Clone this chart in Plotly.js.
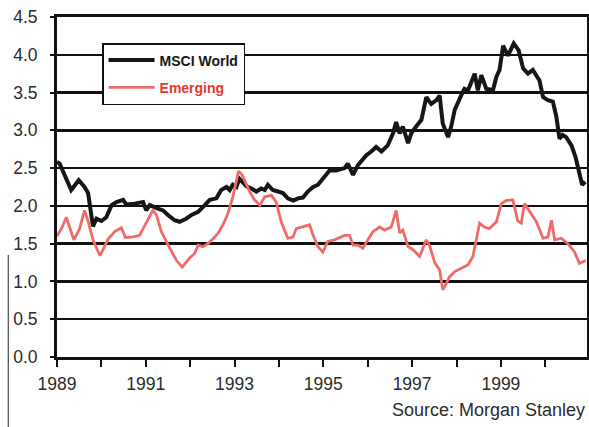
<!DOCTYPE html>
<html>
<head>
<meta charset="utf-8">
<script src="https://cdn.plot.ly/plotly-3.0.1.min.js"></script>
<style>
  html, body { margin: 0; padding: 0; background: #fff; }
  #chart { width: 589px; height: 427px; }
</style>
</head>
<body>
<div id="chart"></div>
<script>
// MSCI World (black)
const worldYears = [1989.00,1989.06,1989.32,1989.49,1989.62,1989.70,1989.81,1989.89,1990.00,1990.11,1990.23,1990.34,1990.49,1990.56,1990.75,1990.94,1991.01,1991.09,1991.24,1991.39,1991.50,1991.65,1991.76,1991.91,1992.03,1992.18,1992.33,1992.44,1992.59,1992.70,1992.82,1992.89,1992.96,1993.04,1993.11,1993.19,1993.27,1993.38,1993.49,1993.60,1993.68,1993.75,1993.86,1993.98,1994.09,1994.20,1994.32,1994.43,1994.54,1994.65,1994.77,1994.88,1995.03,1995.14,1995.29,1995.48,1995.55,1995.67,1995.78,1995.89,1995.97,1996.08,1996.19,1996.31,1996.45,1996.57,1996.64,1996.72,1996.79,1996.91,1996.98,1997.09,1997.21,1997.32,1997.43,1997.55,1997.62,1997.69,1997.81,1997.88,1997.96,1998.11,1998.18,1998.26,1998.41,1998.48,1998.56,1998.67,1998.82,1998.90,1998.97,1999.05,1999.16,1999.29,1999.40,1999.50,1999.61,1999.72,1999.80,1999.87,1999.95,2000.06,2000.17,2000.25,2000.32,2000.39,2000.47,2000.59,2000.68,2000.76,2000.83,2000.90];
const worldValues = [2.58,2.56,2.21,2.34,2.25,2.17,1.73,1.83,1.80,1.85,2.01,2.05,2.08,2.02,2.03,2.05,1.94,2.01,1.97,1.94,1.88,1.81,1.79,1.83,1.88,1.92,2.01,2.08,2.10,2.21,2.25,2.21,2.28,2.25,2.36,2.30,2.26,2.23,2.19,2.23,2.21,2.28,2.21,2.19,2.17,2.10,2.07,2.10,2.11,2.19,2.25,2.28,2.39,2.47,2.47,2.50,2.56,2.41,2.54,2.61,2.67,2.72,2.78,2.72,2.80,2.96,3.11,2.96,3.05,2.83,2.96,3.05,3.14,3.44,3.35,3.40,3.46,3.09,2.91,3.05,3.27,3.47,3.55,3.53,3.75,3.53,3.73,3.55,3.53,3.71,3.80,4.12,3.99,4.15,4.06,3.82,3.75,3.80,3.73,3.66,3.44,3.40,3.38,3.18,2.89,2.94,2.91,2.80,2.65,2.47,2.28,2.32];

// Emerging (red)
const emergingYears = [1989.00,1989.10,1989.21,1989.32,1989.38,1989.51,1989.62,1989.70,1989.81,1989.97,1990.15,1990.30,1990.45,1990.54,1990.71,1990.86,1991.01,1991.16,1991.24,1991.35,1991.54,1991.69,1991.82,1991.99,1992.10,1992.18,1992.29,1992.40,1992.51,1992.63,1992.74,1992.85,1992.96,1993.09,1993.17,1993.27,1993.34,1993.45,1993.57,1993.68,1993.83,1993.94,1994.05,1994.20,1994.32,1994.39,1994.54,1994.69,1994.77,1994.88,1994.99,1995.10,1995.25,1995.41,1995.48,1995.59,1995.67,1995.78,1995.89,1996.00,1996.12,1996.27,1996.38,1996.53,1996.64,1996.72,1996.79,1996.91,1997.02,1997.17,1997.32,1997.39,1997.51,1997.62,1997.69,1997.77,1997.84,1997.96,1998.11,1998.26,1998.37,1998.45,1998.52,1998.63,1998.74,1998.90,1999.01,1999.12,1999.27,1999.38,1999.46,1999.53,1999.65,1999.80,1999.95,2000.06,2000.14,2000.21,2000.36,2000.51,2000.66,2000.77,2000.85,2000.91];
const emergingValues = [1.60,1.70,1.85,1.64,1.55,1.70,1.94,1.80,1.55,1.34,1.56,1.66,1.71,1.58,1.59,1.61,1.77,1.94,1.88,1.66,1.44,1.28,1.19,1.31,1.37,1.48,1.46,1.50,1.56,1.64,1.75,1.90,2.12,2.46,2.41,2.28,2.19,2.08,2.01,2.12,2.14,2.05,1.79,1.57,1.59,1.70,1.72,1.75,1.61,1.46,1.39,1.53,1.55,1.59,1.61,1.61,1.48,1.48,1.44,1.55,1.66,1.72,1.68,1.72,1.94,1.64,1.68,1.46,1.42,1.33,1.55,1.48,1.25,1.15,0.89,0.97,1.06,1.13,1.17,1.22,1.33,1.55,1.77,1.72,1.70,1.79,2.03,2.07,2.08,1.80,1.77,2.03,1.92,1.79,1.57,1.59,1.81,1.55,1.57,1.50,1.39,1.24,1.26,1.28];

const yearTicks = [1989,1990,1991,1992,1993,1994,1995,1996,1997,1998,1999,2000];
const yearLabels = ['1989','','1991','','1993','','1995','','1997','','1999',''];
const valueTicks = [0,0.5,1,1.5,2,2.5,3,3.5,4,4.5];
const valueLabels = ['0.0','0.5','1.0','1.5','2.0','2.5','3.0','3.5','4.0','4.5'];

const FONT = 'Liberation Sans Narrow, Arial Narrow, Liberation Sans, Arial, sans-serif';

const traces = [
  {
    x: worldYears, y: worldValues, type: 'scatter', mode: 'lines',
    name: '<b>MSCI World</b>', legendgroup: 'a',
    line: { color: '#161616', width: 4 }
  },
  {
    x: emergingYears, y: emergingValues, type: 'scatter', mode: 'lines',
    name: '<b><span style="color:#e8372e">Emerging</span></b>', legendgroup: 'b',
    line: { color: '#f06a6a', width: 2.8 }
  }
];

const layout = {
  width: 589, height: 427,
  margin: { l: 57, r: 2, t: 17, b: 70 },
  paper_bgcolor: '#fff', plot_bgcolor: '#fff',
  font: { family: FONT, size: 17, color: '#2b2b2b' },
  showlegend: true,
  legend: {
    x: 0.085, y: 0.9235, xanchor: 'left', yanchor: 'top',
    bgcolor: '#fff', bordercolor: '#111', borderwidth: 1.5,
    font: { family: FONT, size: 14, color: '#161616' },
    itemwidth: 46, tracegroupgap: 6, traceorder: 'grouped'
  },
  xaxis: {
    range: [1989, 2000.94],
    tickvals: yearTicks, ticktext: yearLabels,
    ticks: 'outside', ticklen: 7, tickwidth: 2, tickcolor: '#111',
    showline: true, linecolor: '#111', linewidth: 3, mirror: true,
    showgrid: false, zeroline: false, ticklabelstandoff: 2,
    tickfont: { family: FONT, size: 17.5, color: '#2b2b2b' }
  },
  yaxis: {
    range: [0, 4.5],
    tickvals: valueTicks, ticktext: valueLabels,
    ticks: 'outside', ticklen: 4, tickwidth: 2, tickcolor: '#111',
    showline: true, linecolor: '#111', linewidth: 3, mirror: true,
    showgrid: true, gridcolor: '#111', gridwidth: 2.5,
    zeroline: false, ticklabelstandoff: 9,
    tickfont: { family: FONT, size: 17.5, color: '#2b2b2b' }
  },
  shapes: [
    { type: 'line', xref: 'paper', yref: 'paper', x0: -0.092, x1: -0.092, y0: 0.3, y1: -0.22,
      line: { color: '#222', width: 1 } }
  ],
  annotations: [
    {
      text: 'Source: Morgan Stanley', xref: 'paper', yref: 'paper',
      x: 1, y: -0.156, xanchor: 'right', yanchor: 'middle', showarrow: false,
      font: { family: FONT, size: 18, color: '#2b2b2b' }
    }
  ]
};

Plotly.newPlot('chart', traces, layout, { staticPlot: true, displayModeBar: false });
</script>
</body>
</html>
